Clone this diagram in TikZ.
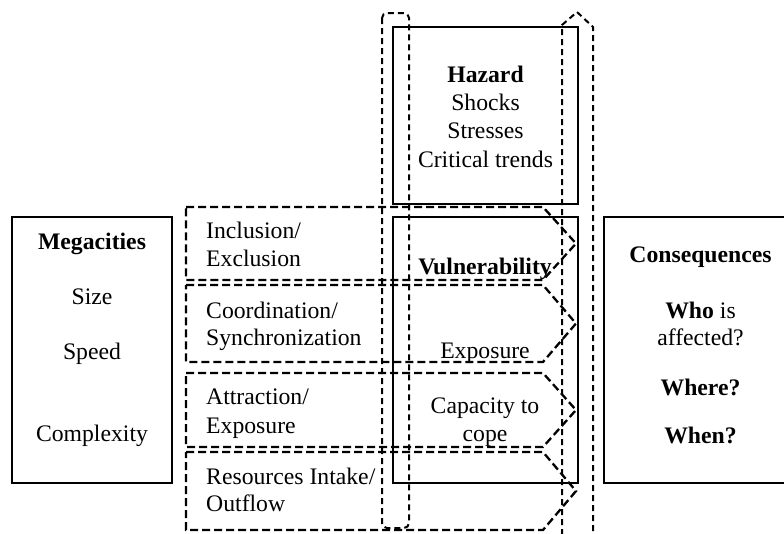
\documentclass[tikz,border=0pt]{standalone}
\usepackage{fontspec}
\setmainfont{Liberation Serif}
\begin{document}
\begin{tikzpicture}[x=1pt,y=-1pt,
  solidbox/.style={draw, line width=2.8pt, inner sep=0pt},
  sidebox/.style={draw, line width=2.3pt, inner sep=0pt},
  dashbox/.style={draw, line width=2.3pt, dash pattern=on 8pt off 4pt},
  thindash/.style={draw, line width=2pt, dash pattern=on 6pt off 4pt},
  txt/.style={font=\fontsize{23.7}{28.4}\selectfont, inner sep=0pt, anchor=base},
  ltxt/.style={txt, anchor=base west}]
\useasboundingbox (0,0) rectangle (784,533);
\clip (0,0) rectangle (784,533);

% main boxes
\node[sidebox, minimum width=160pt, minimum height=266pt] (mega) at (92,350) {};
\node[sidebox, minimum width=196pt, minimum height=266pt] (cons) at (702,350) {};
\node[solidbox, minimum width=185pt, minimum height=177pt] (haz) at (485.5,115.5) {};
\node[solidbox, minimum width=185pt, minimum height=266pt] (vul) at (485.5,350) {};

% arrow shapes
\draw[dashbox] (186,207) -- (543,207) -- (576,243.5) -- (543,280) -- (186,280) -- cycle;
\draw[dashbox] (186,285) -- (543,285) -- (576,323.5) -- (543,362) -- (186,362) -- cycle;
\draw[dashbox] (186,373) -- (543,373) -- (576,410) -- (543,447) -- (186,447) -- cycle;
\draw[dashbox] (186,452) -- (543,452) -- (576,491) -- (543,530) -- (186,530) -- cycle;

% tall dashed shapes
\draw[thindash, rounded corners=5pt] (382,13) rectangle (409,528);
\draw[thindash] (562,545) -- (562,25) -- (577,12) -- (593,27) -- (593,545);

% Megacities text
\node[txt] (m1) at (92,249) {\textbf{Megacities}};
\node[txt] (m2) at (92,304) {Size};
\node[txt] (m3) at (92,359) {Speed};
\node[txt] (m4) at (92,441) {Complexity};

% Hazard text
\node[txt] (h1) at (485.5,82) {\textbf{Hazard}};
\node[txt] (h2) at (485.5,110) {Shocks};
\node[txt] (h3) at (485.5,138.5) {Stresses};
\node[txt] (h4) at (485.5,167) {Critical trends};

% Vulnerability text
\node[txt] (v1) at (485,274) {\textbf{Vulnerability}};
\node[txt] (v2) at (485,358) {Exposure};
\node[txt] (v3) at (485,413) {Capacity to};
\node[txt] (v4) at (485,441) {cope};

% arrow texts
\node[ltxt] (a1) at (206,238) {Inclusion/};
\node[ltxt] (a2) at (206,266) {Exclusion};
\node[ltxt] (b1) at (206,318) {Coordination/};
\node[ltxt] (b2) at (206,345) {Synchronization};
\node[ltxt] (c1) at (206,404) {Attraction/};
\node[ltxt] (c2) at (206,433) {Exposure};
\node[ltxt] (d1) at (206,484) {Resources Intake/};
\node[ltxt] (d2) at (206,511) {Outflow};

% Consequences text
\node[txt] (k1) at (700.5,262) {\textbf{Consequences}};
\node[txt] (k2) at (700.5,318) {\textbf{Who} is};
\node[txt] (k3) at (700.5,345) {affected?};
\node[txt] (k4) at (700.5,395) {\textbf{Where?}};
\node[txt] (k5) at (700.5,443) {\textbf{When?}};
\end{tikzpicture}
\end{document}
